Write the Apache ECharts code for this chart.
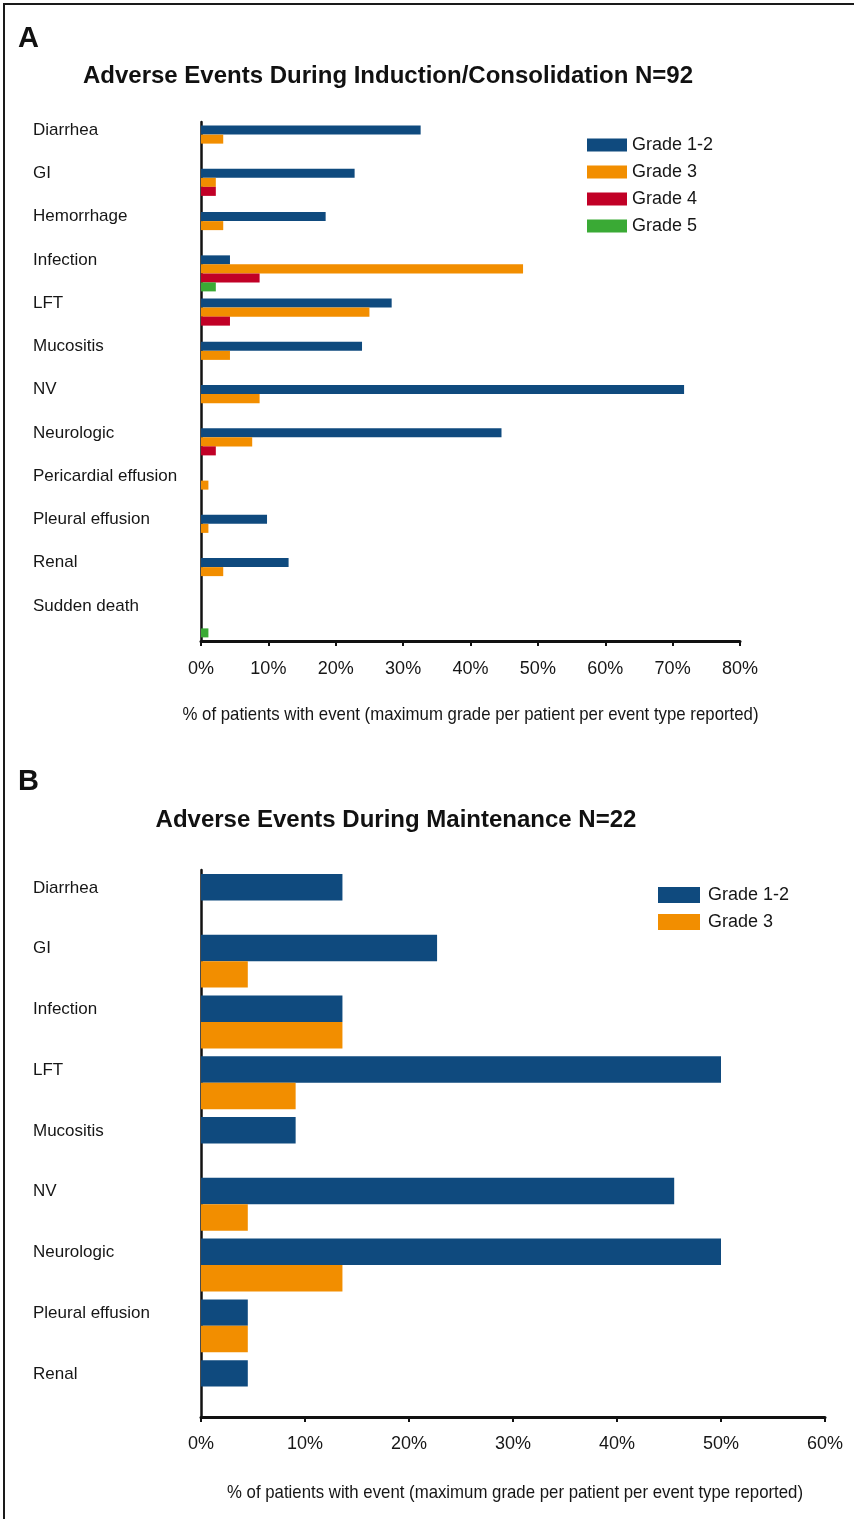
<!DOCTYPE html>
<html>
<head>
<meta charset="utf-8">
<script src="https://cdn.jsdelivr.net/npm/echarts@6/dist/echarts.min.js"></script>
<style>
html,body{margin:0;padding:0;background:#fff;}
#c{width:854px;height:1519px;}
</style>
</head>
<body>
<div id="c"></div>
<script>
// ---- Panel A data (N=92) ----
const catsA = ['Diarrhea','GI','Hemorrhage','Infection','LFT','Mucositis','NV','Neurologic','Pericardial effusion','Pleural effusion','Renal','Sudden death'];
const aGrade12 = [32.6, 22.8, 18.5, 4.3, 28.3, 23.9, 71.7, 44.6, 0, 9.8, 13.0, 0];
const aGrade3  = [3.3, 2.2, 3.3, 47.8, 25.0, 4.3, 8.7, 7.6, 1.1, 1.1, 3.3, 0];
const aGrade4  = [0, 2.2, 0, 8.7, 4.3, 0, 0, 2.2, 0, 0, 0, 0];
const aGrade5  = [0, 0, 0, 2.2, 0, 0, 0, 0, 0, 0, 0, 1.1];
const ticksA = [0,10,20,30,40,50,60,70,80];

// ---- Panel B data (N=22) ----
const catsB = ['Diarrhea','GI','Infection','LFT','Mucositis','NV','Neurologic','Pleural effusion','Renal'];
const bGrade12 = [13.6, 22.7, 13.6, 50.0, 9.1, 45.5, 50.0, 4.5, 4.5];
const bGrade3  = [0, 4.5, 13.6, 9.1, 0, 4.5, 13.6, 4.5, 0];
const ticksB = [0,10,20,30,40,50,60];

const seriesNames = ['Grade 1-2','Grade 3','Grade 4','Grade 5'];
const colors = ['#0f4a7e','#f28e00','#c10026','#3aaa35'];

const titleA = 'Adverse Events During Induction/Consolidation N=92';
const titleB = 'Adverse Events During Maintenance N=22';
const axisName = '% of patients with event (maximum grade per patient per event type reported)';

const SANS = '"Liberation Sans", Arial, Helvetica, sans-serif';
const INK = '#161616';

// condensed look for the axis caption: scale regular text horizontally to the reference width
const NAME_FONT = '19px "Liberation Sans", Arial, sans-serif';
const mctx = document.createElement('canvas').getContext('2d');
mctx.font = NAME_FONT;
const nameScale = 576 / mctx.measureText(axisName).width;

const chart = echarts.init(document.getElementById('c'), null, {renderer:'canvas'});

function xAxisCfg(gridIndex, ticks, margin){
  return {
    type:'value', gridIndex, min: ticks[0], max: ticks[ticks.length-1], interval: ticks[1]-ticks[0],
    axisLine:{show:true, lineStyle:{color:'#111', width:3}},
    axisTick:{show:true, length:5, lineStyle:{color:'#111', width:2}},
    splitLine:{show:false},
    axisLabel:{formatter:'{value}%', fontFamily:SANS, fontSize:18, color:INK, margin,
      showMinLabel:true, showMaxLabel:true}
  };
}
function yAxisCfg(gridIndex, cats, lh){
  return {
    type:'category', gridIndex, data: cats, inverse:true,
    axisLine:{show:true, lineStyle:{color:'#111', width:2.5}},
    axisTick:{show:false},
    axisLabel:{align:'left', margin:168, fontFamily:SANS, fontSize:17, color:INK, lineHeight:lh,
      interval:0, showMinLabel:true, showMaxLabel:true, hideOverlap:false,
      formatter: v => v + '\n '}
  };
}

const option = {
  backgroundColor:'#fff',
  animation:false,
  grid:[
    {left:201, top:122, width:539, height:519},
    {left:201, top:870, width:624, height:547}
  ],
  xAxis:[ xAxisCfg(0, ticksA, 19), xAxisCfg(1, ticksB, 18) ],
  yAxis:[ yAxisCfg(0, catsA, 27), yAxisCfg(1, catsB, 25) ],
  legend:[
    {orient:'vertical', left:587, top:136, padding:0, itemWidth:40, itemHeight:13, itemGap:9,
     data: seriesNames, textStyle:{fontFamily:SANS, fontSize:18, color:INK, lineHeight:18}, icon:'rect'},
    {orient:'vertical', left:658, top:886, padding:0, itemWidth:42, itemHeight:16, itemGap:9,
     data: [seriesNames[0], seriesNames[1]], textStyle:{fontFamily:SANS, fontSize:18, color:INK, lineHeight:18, padding:[0,0,0,3]}, icon:'rect'}
  ],
  series:[
    {name:seriesNames[0], type:'bar', xAxisIndex:0, yAxisIndex:0, data:aGrade12, itemStyle:{color:colors[0]}, barGap:'0%', barCategoryGap:'16.7%'},
    {name:seriesNames[1], type:'bar', xAxisIndex:0, yAxisIndex:0, data:aGrade3, itemStyle:{color:colors[1]}, barGap:'0%', barCategoryGap:'16.7%'},
    {name:seriesNames[2], type:'bar', xAxisIndex:0, yAxisIndex:0, data:aGrade4, itemStyle:{color:colors[2]}, barGap:'0%', barCategoryGap:'16.7%'},
    {name:seriesNames[3], type:'bar', xAxisIndex:0, yAxisIndex:0, data:aGrade5, itemStyle:{color:colors[3]}, barGap:'0%', barCategoryGap:'16.7%'},
    {name:seriesNames[0], type:'bar', xAxisIndex:1, yAxisIndex:1, data:bGrade12, itemStyle:{color:colors[0]}, barGap:'0%', barCategoryGap:'13%'},
    {name:seriesNames[1], type:'bar', xAxisIndex:1, yAxisIndex:1, data:bGrade3, itemStyle:{color:colors[1]}, barGap:'0%', barCategoryGap:'13%'}
  ],
  graphic:[
    {type:'rect', shape:{x:4, y:4, width:870, height:1540}, style:{fill:'none', stroke:'#1a1a1a', lineWidth:2}, silent:true},
    {type:'text', x:18, y:39, style:{text:'A', font:'bold 29px '+SANS, fill:'#111', align:'left', verticalAlign:'middle'}},
    {type:'text', x:388, y:76, style:{text:titleA, font:'bold 24px '+SANS, fill:'#111', align:'center', verticalAlign:'middle'}},
    {type:'text', x:18, y:782, style:{text:'B', font:'bold 29px '+SANS, fill:'#111', align:'left', verticalAlign:'middle'}},
    {type:'text', x:396, y:820, style:{text:titleB, font:'bold 24px '+SANS, fill:'#111', align:'center', verticalAlign:'middle'}},
    {type:'text', x:470.5, y:715, scaleX:nameScale, style:{text:axisName, font:NAME_FONT, fill:INK, align:'center', verticalAlign:'middle'}},
    {type:'text', x:515, y:1493, scaleX:nameScale, style:{text:axisName, font:NAME_FONT, fill:INK, align:'center', verticalAlign:'middle'}}
  ]
};
chart.setOption(option);
</script>
</body>
</html>
